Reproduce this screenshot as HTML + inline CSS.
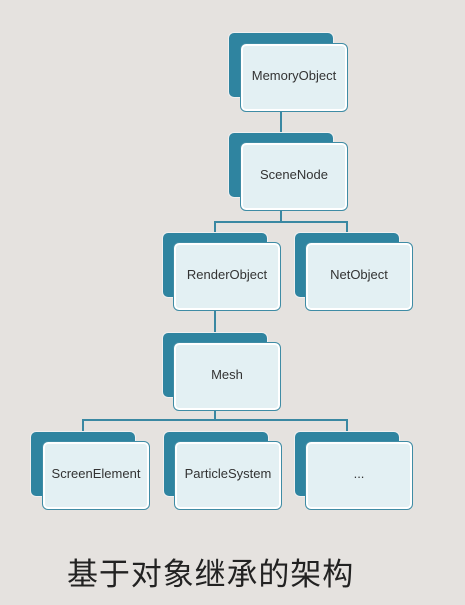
<!DOCTYPE html>
<html><head><meta charset="utf-8"><style>
body{margin:0;width:465px;height:605px;background:#e5e2df;position:relative;overflow:hidden;font-family:"Liberation Sans","Noto Sans CJK SC",sans-serif}
.b{position:absolute;width:106px;height:66px;background:#2f84a0;border-radius:6px;border:1px solid #f0f0f0;box-sizing:border-box}
.f{position:absolute;width:108px;height:69px;background:#e3f0f3;border-radius:6px;border:1.5px solid #3f8ca5;box-shadow:inset 0 0 0 2px #fff;box-sizing:border-box;display:flex;align-items:center;justify-content:center;font-size:13px;color:#333;padding-bottom:4px}
.l{position:absolute;background:#3a88a2}
</style></head><body>
<div class="l" style="left:280px;top:105px;width:2px;height:40px"></div>
<div class="l" style="left:280px;top:205px;width:2px;height:17px"></div>
<div class="l" style="left:214px;top:221px;width:134px;height:2px"></div>
<div class="l" style="left:214px;top:221px;width:2px;height:14px"></div>
<div class="l" style="left:346px;top:221px;width:2px;height:14px"></div>
<div class="l" style="left:214px;top:305px;width:2px;height:40px"></div>
<div class="l" style="left:214px;top:405px;width:2px;height:16px"></div>
<div class="l" style="left:82px;top:419px;width:266px;height:2px"></div>
<div class="l" style="left:82px;top:419px;width:2px;height:14px"></div>
<div class="l" style="left:346px;top:419px;width:2px;height:14px"></div>

<div class="b" style="left:228px;top:32px"></div><div class="f" style="left:240px;top:43px">MemoryObject</div>
<div class="b" style="left:228px;top:132px"></div><div class="f" style="left:240px;top:142px">SceneNode</div>
<div class="b" style="left:162px;top:232px"></div><div class="f" style="left:173px;top:242px">RenderObject</div>
<div class="b" style="left:294px;top:232px"></div><div class="f" style="left:305px;top:242px">NetObject</div>
<div class="b" style="left:162px;top:332px"></div><div class="f" style="left:173px;top:342px">Mesh</div>
<div class="b" style="left:30px;top:431px"></div><div class="f" style="left:42px;top:441px">ScreenElement</div>
<div class="b" style="left:163px;top:431px"></div><div class="f" style="left:174px;top:441px">ParticleSystem</div>
<div class="b" style="left:294px;top:431px"></div><div class="f" style="left:305px;top:441px">...</div>

<div style="position:absolute;left:67px;top:549px;font-size:31px;color:#222;white-space:nowrap;letter-spacing:0.9px">基于对象继承的架构</div>
</body></html>
